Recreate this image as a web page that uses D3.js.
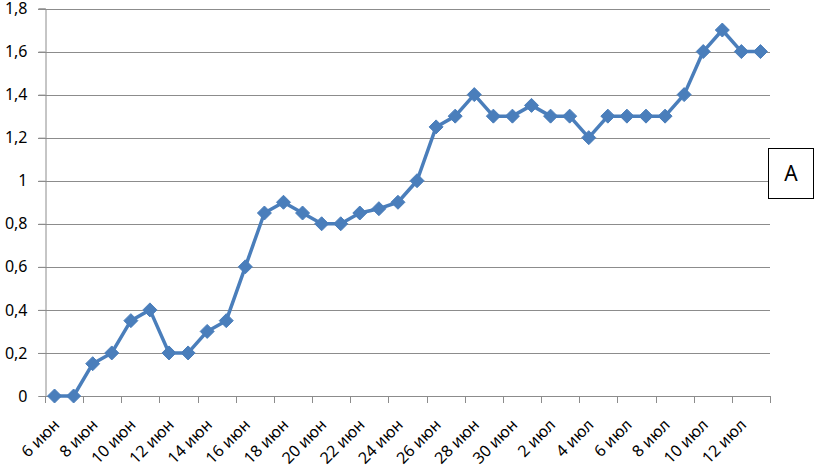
<!DOCTYPE html>
<html>
<head>
<meta charset="utf-8">
<script src="https://cdn.jsdelivr.net/npm/d3@7"></script>
<style>
  body { margin: 0; background: #fff; }
  svg { display: block; font-family: "Noto Sans", sans-serif; }
</style>
</head>
<body>
<div id="chart"></div>
<script>
// categories (days, 6 июн .. 13 июл)
var days = ["6 июн","7 июн","8 июн","9 июн","10 июн","11 июн","12 июн","13 июн","14 июн","15 июн",
  "16 июн","17 июн","18 июн","19 июн","20 июн","21 июн","22 июн","23 июн","24 июн","25 июн",
  "26 июн","27 июн","28 июн","29 июн","30 июн","1 июл","2 июл","3 июл","4 июл","5 июл",
  "6 июл","7 июл","8 июл","9 июл","10 июл","11 июл","12 июл","13 июл"];
var values = [0, 0, 0.15, 0.2, 0.35, 0.4, 0.2, 0.2, 0.3, 0.35,
  0.6, 0.85, 0.9, 0.85, 0.8, 0.8, 0.85, 0.87, 0.9, 1.0,
  1.25, 1.3, 1.4, 1.3, 1.3, 1.35, 1.3, 1.3, 1.2, 1.3,
  1.3, 1.3, 1.3, 1.4, 1.6, 1.7, 1.6, 1.6];
var yTicks = [0, 0.2, 0.4, 0.6, 0.8, 1, 1.2, 1.4, 1.6, 1.8];
var legendText = "A";

var width = 815, height = 468;
var margin = {top: 8.5, left: 45, right: 45, bottom: 72};

var svg = d3.select("#chart").append("svg")
  .attr("width", width)
  .attr("height", height);

var x = d3.scaleBand()
  .domain(days)
  .range([margin.left, width - margin.right]);

var y = d3.scaleLinear()
  .domain([0, 1.8])
  .range([height - margin.bottom, margin.top]);

var fmt = function(d){ return String(d).replace(".", ","); };

// gridlines
svg.append("g")
  .selectAll("line")
  .data(yTicks.slice(1))
  .enter().append("line")
  .attr("x1", margin.left - 7)
  .attr("x2", width - margin.right)
  .attr("y1", function(d){ return Math.round(y(d)) + 0.5; })
  .attr("y2", function(d){ return Math.round(y(d)) + 0.5; })
  .style("stroke", "#8c8c8c")
  .style("stroke-width", 1.2);

// y axis
var yAxis = svg.append("g")
  .attr("transform", "translate(" + (margin.left + 0.5) + ",0)")
  .call(d3.axisLeft(y).tickValues(yTicks).tickSize(7).tickPadding(11).tickFormat(fmt));
yAxis.select(".domain").style("stroke", "#8c8c8c");
yAxis.selectAll(".tick line").style("stroke", "#8c8c8c");
yAxis.selectAll(".tick text")
  .style("font-size", "16px")
  .style("fill", "#000")
  .style("font-family", "'Noto Sans', sans-serif");

// x axis: ticks every two categories, at category boundaries
var x0 = y(0);
var tickIdx = d3.range(0, days.length + 1, 2);
svg.append("line")
  .attr("x1", margin.left)
  .attr("x2", width - margin.right)
  .attr("y1", Math.round(x0) + 0.5)
  .attr("y2", Math.round(x0) + 0.5)
  .style("stroke", "#8c8c8c")
  .style("stroke-width", 1.2);
svg.append("g")
  .selectAll("line")
  .data(tickIdx)
  .enter().append("line")
  .attr("x1", function(i){ return Math.round(margin.left + i * x.step()) + 0.5; })
  .attr("x2", function(i){ return Math.round(margin.left + i * x.step()) + 0.5; })
  .attr("y1", x0)
  .attr("y2", x0 + 7)
  .style("stroke", "#8c8c8c");

svg.append("g")
  .selectAll("text")
  .data(days.filter(function(d, i){ return i % 2 === 0; }))
  .enter().append("text")
  .attr("transform", function(d){
    var cx = x(d) + x.bandwidth() / 2 - 2;
    return "translate(" + cx + "," + (x0 + 22) + ") rotate(-45)";
  })
  .attr("text-anchor", "end")
  .attr("dy", "0.7em")
  .style("font-size", "16px")
  .text(function(d){ return d; });

// series line
var line = d3.line()
  .x(function(d, i){ return x(days[i]) + x.bandwidth() / 2; })
  .y(function(d){ return y(d); });

svg.append("path")
  .datum(values)
  .attr("d", line)
  .style("fill", "none")
  .style("stroke", "#4a7ebb")
  .style("stroke-width", 3.5)
  .style("stroke-linejoin", "round");

svg.append("g")
  .selectAll("path")
  .data(values)
  .enter().append("path")
  .attr("d", "M0,-7L7,0L0,7L-7,0Z")
  .attr("transform", function(d, i){
    return "translate(" + (x(days[i]) + x.bandwidth() / 2) + "," + y(d) + ")";
  })
  .style("fill", "#4a7ebb")
  .style("stroke", "#4a7ebb")
  .style("stroke-width", 1);

// legend box
var lg = svg.append("g");
lg.append("rect")
  .attr("x", 768.5)
  .attr("y", 148.5)
  .attr("width", 45)
  .attr("height", 50)
  .style("fill", "#fff")
  .style("stroke", "#000")
  .style("stroke-width", 1);
lg.append("text")
  .attr("x", 791)
  .attr("y", 174)
  .attr("text-anchor", "middle")
  .attr("dy", "0.35em")
  .style("font-size", "21px")
  .text(legendText);
</script>
</body>
</html>
